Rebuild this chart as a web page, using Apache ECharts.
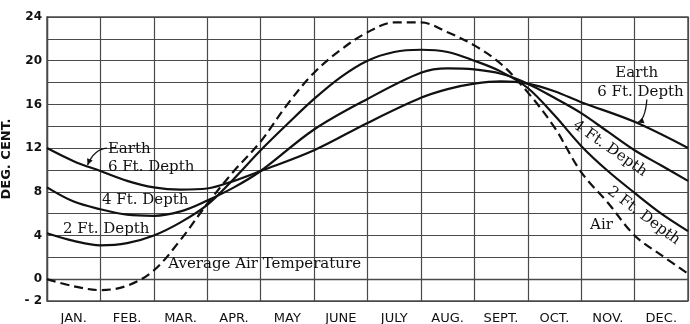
<!DOCTYPE html>
<html>
<head>
<meta charset="utf-8">
<script src="https://cdn.jsdelivr.net/npm/echarts@6/dist/echarts.min.js"></script>
<style>
  html, body { margin: 0; padding: 0; background: #fff; }
  #chart { width: 690px; height: 324px; }
</style>
</head>
<body>
<div id="chart"></div>
<script>
// Month names shown under the bands; the curves run from the start of January (0) to the end of December (12)
const months = ['JAN.', 'FEB.', 'MAR.', 'APR.', 'MAY', 'JUNE', 'JULY', 'AUG.', 'SEPT.', 'OCT.', 'NOV.', 'DEC.'];
const yTickLabels = [-2, 0, 4, 8, 12, 16, 20, 24];

// [month position, degrees centigrade]
const airTemp = [
  [0, 0.0], [0.5, -0.65], [1, -1.0], [1.5, -0.6], [2, 0.8], [2.5, 3.6], [3, 6.9], [3.5, 9.9],
  [4, 12.6], [4.5, 16.0], [5, 18.9], [5.5, 21.0], [6, 22.6], [6.5, 23.5], [7, 23.5], [7.5, 22.6],
  [8, 21.4], [8.5, 19.7], [9, 17.1], [9.5, 13.9], [10, 9.8], [10.5, 7.0], [11, 4.0], [11.5, 2.2], [12, 0.5]
];
const earth2ft = [
  [0, 4.2], [0.5, 3.5], [1, 3.1], [1.5, 3.3], [2, 4.0], [2.5, 5.2], [3, 6.8], [3.5, 9.2],
  [4, 11.8], [4.5, 14.2], [5, 16.5], [5.5, 18.5], [6, 20.0], [6.5, 20.8], [7, 21.0], [7.5, 20.8],
  [8, 20.0], [8.5, 19.0], [9, 17.5], [9.5, 15.0], [10, 12.2], [10.5, 9.9], [11, 7.9], [11.5, 6.0], [12, 4.4]
];
const earth4ft = [
  [0, 8.4], [0.5, 7.1], [1, 6.4], [1.5, 5.9], [2, 5.8], [2.5, 6.2], [3, 7.2], [3.5, 8.4],
  [4, 9.9], [5, 13.7], [6, 16.5], [7, 18.9], [7.5, 19.3], [8, 19.2], [8.5, 18.8], [9, 17.9],
  [9.5, 16.6], [10, 15.2], [10.5, 13.5], [11, 11.8], [11.5, 10.4], [12, 9.0]
];
const earth6ft = [
  [0, 12.0], [0.5, 10.8], [1, 9.9], [1.5, 9.0], [2, 8.4], [2.5, 8.2], [3, 8.3], [3.5, 9.0],
  [4, 9.9], [5, 11.8], [6, 14.3], [7, 16.6], [7.5, 17.4], [8, 17.9], [8.5, 18.1], [9, 17.9],
  [9.5, 17.2], [10, 16.2], [11, 14.4], [12, 12.0]
];

const INK = '#111';
const GRID = '#4a4a4a';
const SERIF = '"DejaVu Serif", "Liberation Serif", serif';
const SANS = '"DejaVu Sans", "Liberation Sans", sans-serif';

const chart = echarts.init(document.getElementById('chart'), null, { renderer: 'canvas' });

function curve(name, data, dashed) {
  return {
    name, type: 'line', data, smooth: 0.35, symbol: 'none',
    xAxisIndex: 0, yAxisIndex: 0,
    lineStyle: { color: INK, width: 2.2, type: dashed ? [9, 5] : 'solid' },
    z: 5
  };
}

chart.setOption({
  animation: false,
  backgroundColor: '#fff',
  grid: {
    left: 47, right: 2, top: 17, bottom: 23, containLabel: false, outerBoundsMode: 'none',
    show: true, borderColor: GRID, borderWidth: 1.4
  },
  xAxis: [
    {
      type: 'value', min: 0, max: 12, interval: 1,
      axisLine: { show: true, lineStyle: { color: GRID, width: 1.4 } },
      axisTick: { show: false }, axisLabel: { show: false },
      splitLine: { show: true, lineStyle: { color: GRID, width: 1.2 } }
    },
    {
      type: 'category', data: months, boundaryGap: true, position: 'bottom',
      axisLine: { show: false }, axisTick: { show: false }, splitLine: { show: false },
      axisLabel: { color: INK, fontFamily: SANS, fontSize: 13, margin: 11 }
    }
  ],
  yAxis: {
    type: 'value', min: -2, max: 24, interval: 2,
    name: 'DEG. CENT.', nameLocation: 'middle', nameGap: 31, nameRotate: 90,
    nameTextStyle: { color: INK, fontFamily: SANS, fontSize: 13, fontWeight: 'bold' },
    axisLine: { show: true, lineStyle: { color: GRID, width: 1.4 } },
    axisTick: { show: false },
    axisLabel: {
      color: INK, fontFamily: SANS, fontWeight: 'bold', fontSize: 12, margin: 5,
      formatter: v => yTickLabels.includes(v) ? (v < 0 ? '- ' + Math.abs(v) : String(v)) : ''
    },
    splitLine: { show: true, lineStyle: { color: GRID, width: 1.2 } }
  },
  series: [
    curve('Average Air Temperature', airTemp, true),
    curve('2 Ft. Depth', earth2ft, false),
    curve('4 Ft. Depth', earth4ft, false),
    curve('Earth 6 Ft. Depth', earth6ft, false)
  ]
});

// Curve labels, placed in data coordinates [month position, °C]
const notes = [
  { text: 'Earth', at: [1.14, 11.9], align: 'left' },
  { text: '6 Ft. Depth', at: [1.14, 10.3], align: 'left' },
  { text: '4 Ft. Depth', at: [1.03, 7.2], align: 'left' },
  { text: '2 Ft. Depth', at: [0.3, 4.6], align: 'left' },
  { text: 'Average Air Temperature', at: [2.27, 1.35], align: 'left' },
  { text: 'Earth', at: [11.04, 18.9], align: 'center' },
  { text: '6 Ft. Depth', at: [11.11, 17.15], align: 'center' },
  { text: '4 Ft. Depth', at: [10.54, 11.95], align: 'center', angle: -35 },
  { text: '2 Ft. Depth', at: [11.17, 5.8], align: 'center', angle: -37 },
  { text: 'Air', at: [10.38, 4.95], align: 'center' }
];
// Pointers from the "Earth" labels to the 6 ft curve: start, control, end
const pointers = [
  [[1.12, 12.0], [0.88, 11.9], [0.76, 10.45]],
  [[11.23, 16.45], [11.2, 14.6], [11.06, 14.35]]
];

const px = p => chart.convertToPixel({ xAxisIndex: 0, yAxisIndex: 0 }, p);
const elements = [];
notes.forEach(n => {
  const [x, y] = px(n.at);
  elements.push({
    type: 'text', x, y, rotation: (n.angle || 0) * Math.PI / 180, z: 10,
    style: {
      text: n.text, fill: INK, font: '15px ' + SERIF,
      align: n.align, verticalAlign: 'middle'
    }
  });
});
pointers.forEach(([a, c, b]) => {
  const [x1, y1] = px(a), [cx, cy] = px(c), [x2, y2] = px(b);
  elements.push({
    type: 'bezierCurve', z: 10,
    shape: { x1, y1, x2, y2, cpx1: cx, cpy1: cy },
    style: { stroke: INK, lineWidth: 1.3, fill: null }
  });
  // small arrowhead at the curve end
  const ang = Math.atan2(y2 - cy, x2 - cx);
  const L = 6, W = 3;
  const bx = x2 - L * Math.cos(ang), by = y2 - L * Math.sin(ang);
  elements.push({
    type: 'polygon', z: 10,
    shape: { points: [[x2, y2], [bx + W * Math.sin(ang), by - W * Math.cos(ang)], [bx - W * Math.sin(ang), by + W * Math.cos(ang)]] },
    style: { fill: INK }
  });
});
chart.setOption({ graphic: { elements } });
</script>
</body>
</html>
